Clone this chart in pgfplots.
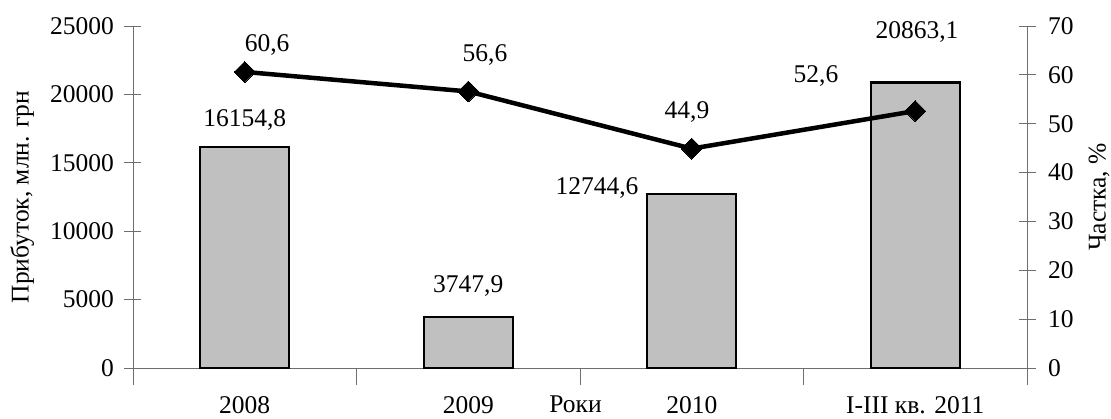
\documentclass[border=0pt]{standalone}
\usepackage{fontspec}
\setmainfont{Liberation Serif}
\usepackage{pgfplots}
\pgfplotsset{compat=1.18}
\definecolor{barfill}{RGB}{192,192,192}
\definecolor{axgray}{RGB}{110,110,110}
\newcommand{\fs}{\fontsize{25.5bp}{30bp}\selectfont}
\begin{document}
\begin{tikzpicture}[font=\fs]
\useasboundingbox (-133bp,-51bp) rectangle (978bp,368bp);
\begin{axis}[
  scale only axis, width=894bp, height=342bp,
  at={(0,0)}, anchor=south west,
  xmin=-0.5, xmax=3.5, ymin=0, ymax=25000,
  axis x line*=bottom, axis y line*=left,
  axis line style={axgray, line width=0.8bp, -},
  xtick={0,1,2,3},
  xticklabels={2008,2009,2010,I-III кв. 2011},
  minor xtick={-0.5,0.5,1.5,2.5,3.5},
  ytick={0,5000,10000,15000,20000,25000},
  scaled y ticks=false,
  tick align=center,
  major tick length=17bp, minor tick length=17bp,
  tick style={axgray, line width=0.8bp},
  major x tick style={draw=none},
  xticklabel style={anchor=base, yshift=-28bp, font=\fs},
  yticklabel style={xshift=-7bp, font=\fs},
  /pgf/number format/1000 sep={},
  /pgf/number format/assume math mode=true,
  ylabel={Прибуток, млн. грн},
  ylabel style={at={(axis description cs:-0.124,0.5)}, anchor=center, rotate=0, font=\fs},
  ybar, bar width=89bp,
  clip=false,
]
\addplot[fill=barfill, draw=black, line width=2.2bp] coordinates {(0,16154.8) (1,3747.9) (2,12744.6) (3,20863.1)};
\node at (axis cs:0,18130) {16154,8};
\node at (axis cs:1,5994) {3747,9};
\node[anchor=east] at (axis cs:1.777,13158) {12744,6};
\node at (axis cs:3.008,24562) {20863,1};
\node at (axis cs:0.1,23611) {60,6};
\node at (axis cs:1.075,22880) {56,6};
\node at (axis cs:1.979,18714) {44,9};
\node at (axis cs:2.556,21345) {52,6};
\node[anchor=base] at (axis cs:1.48,0) [yshift=-44bp] {Роки};
\end{axis}
\begin{axis}[
  scale only axis, width=894bp, height=342bp,
  at={(0,0)}, anchor=south west,
  xmin=-0.5, xmax=3.5, ymin=0, ymax=70,
  axis x line=none, axis y line*=right,
  axis line style={axgray, line width=0.8bp, -},
  ytick={0,10,20,30,40,50,60,70},
  tick align=center,
  major tick length=17bp,
  tick style={axgray, line width=0.8bp},
  yticklabel style={xshift=9bp, font=\fs},
  /pgf/number format/assume math mode=true,
  ylabel={Частка, \%},
  ylabel style={at={(axis description cs:1.0805,0.5)}, anchor=center, rotate=0, font=\fs},
  clip=false,
]
\addplot[black, line width=4.5bp, mark=square*, mark size=7.4bp, mark options={rotate=45, solid, line width=0bp}] coordinates {(0,60.6) (1,56.6) (2,44.9) (3,52.6)};
\end{axis}
\end{tikzpicture}
\end{document}
